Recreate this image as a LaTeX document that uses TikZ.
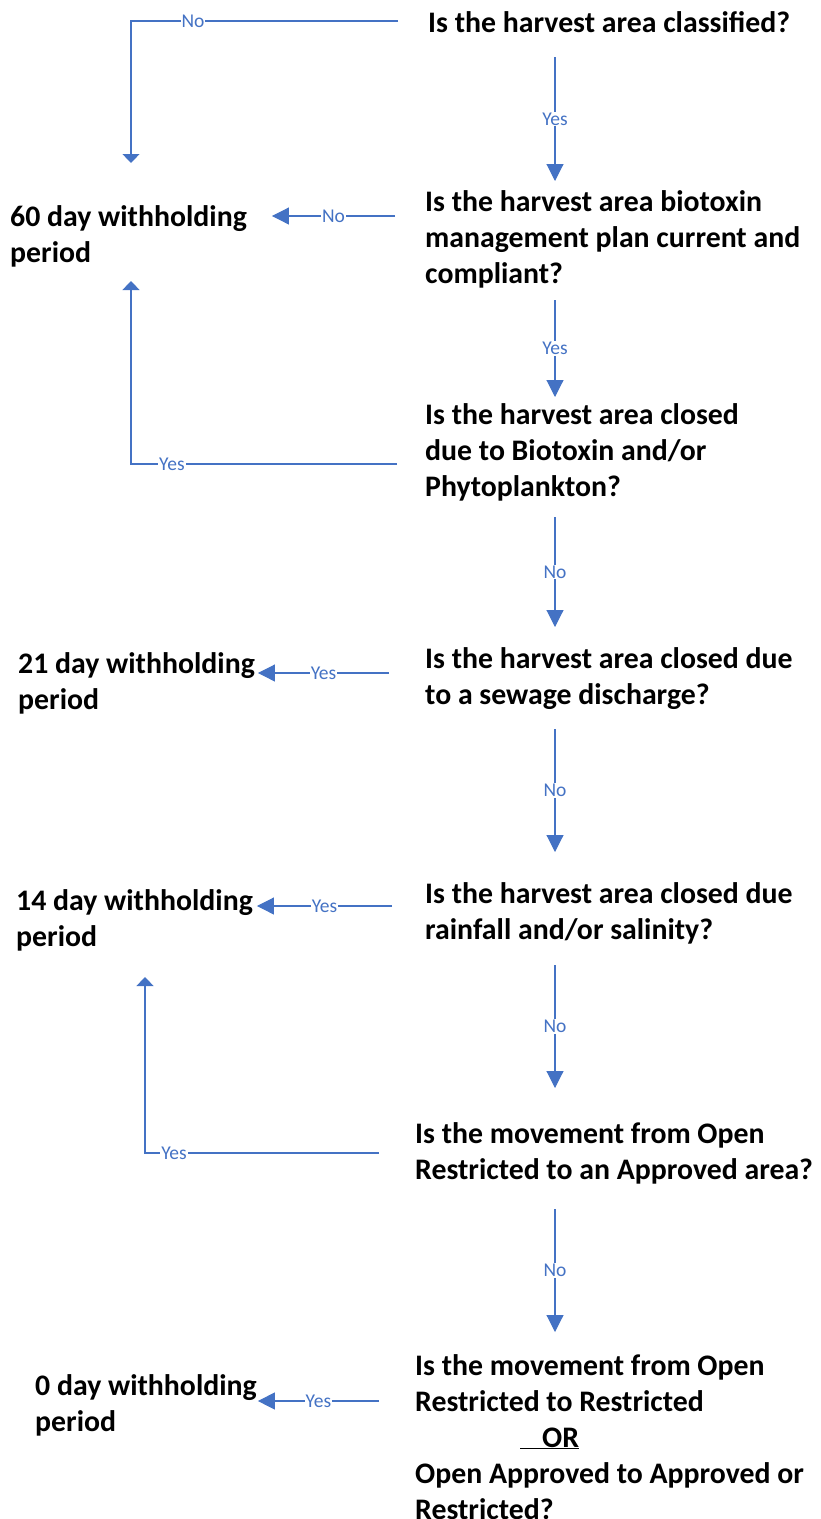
\documentclass[tikz,border=0pt]{standalone}
\usepackage{fontspec}
\setmainfont{Carlito}
\usepackage{tikz}
\usetikzlibrary{arrows.meta,positioning,calc}
\definecolor{flowblue}{RGB}{68, 114, 196}

\begin{document}
\begin{tikzpicture}[
    x=1pt, y=-1pt,
    question/.style={anchor=base west, align=left, inner sep=0pt, font=\fontsize{29.8}{36}\selectfont\bfseries},
    result/.style={question},
    flow/.style={draw=flowblue, line width=1.1pt, -{Triangle[length=17pt,width=17pt]}},
    elbow/.style={flow, -{Triangle[length=9pt,width=17pt]}},
    lbl/.style={font=\fontsize{19.5}{20}\selectfont, text=flowblue, fill=white, inner sep=1pt}
]
    \useasboundingbox (0,0) rectangle (820,1519);

    % Guide lines
    \coordinate (axis) at (555,0);
    \coordinate (laneA) at (131,0);
    \coordinate (laneB) at (145,0);

    % Questions (placed at the baseline of their last line)
    \node[question] (q1) at (428,32) {Is the harvest area classified?};
    \node[question] (q2) at (425,283) {Is the harvest area biotoxin\\management plan current and\\compliant?};
    \node[question] (q3) at (425,496) {Is the harvest area closed\\due to Biotoxin and/or\\Phytoplankton?};
    \node[question] (q4) at (425,704) {Is the harvest area closed due\\to a sewage discharge?};
    \node[question] (q5) at (425,939) {Is the harvest area closed due\\rainfall and/or salinity?};
    \node[question] (q6) at (415,1179) {Is the movement from Open\\Restricted to an Approved area?};
    \node[question] (q7) at (415,1519) {Is the movement from Open\\Restricted to Restricted\\\hspace*{105pt}\underline{\hspace{22pt}OR}\\Open Approved to Approved or\\Restricted?};

    % Withholding periods
    \node[result] (sixty) at (10,262) {60 day withholding\\period};
    \node[result] (twentyone) at (18,709) {21 day withholding\\period};
    \node[result] (fourteen) at (16,946) {14 day withholding\\period};
    \node[result] (zero) at (35,1431) {0 day withholding\\period};

    % Down the chain
    \draw[flow] ($(q1.base -| axis)+(0,25)$) -- node[lbl] {Yes} ($(q2.base -| axis)+(0,-102)$);
    \draw[flow] ($(q2.base -| axis)+(0,17)$) -- node[lbl] {Yes} ($(q3.base -| axis)+(0,-99)$);
    \draw[flow] ($(q3.base -| axis)+(0,21)$) -- node[lbl] {No} ($(q4.base -| axis)+(0,-77)$);
    \draw[flow] ($(q4.base -| axis)+(0,25)$) -- node[lbl] {No} ($(q5.base -| axis)+(0,-87)$);
    \draw[flow] ($(q5.base -| axis)+(0,26)$) -- node[lbl] {No} ($(q6.base -| axis)+(0,-91)$);
    \draw[flow] ($(q6.base -| axis)+(0,30)$) -- node[lbl] {No} ($(q7.base -| axis)+(0,-187)$);

    % Out to the left
    \draw[elbow] ($(q1.base west)+(-30,-11)$) -| node[lbl, pos=0.384] {No} ($(sixty.base -| laneA)+(0,-99)$);
    \draw[flow] ($(q2.base west)+(-30,-67)$) -- node[lbl] {No} ($(sixty.base east)+(25,-46)$);
    \draw[elbow] ($(q3.base west)+(-28,-32)$) -| node[lbl, pos=0.423] {Yes} ($(sixty.base -| laneA)+(0,19)$);
    \draw[flow] ($(q4.base west)+(-36,-31)$) -- node[lbl] {Yes} ($(twentyone.base east)+(3,-36)$);
    \draw[flow] ($(q5.base west)+(-33,-33)$) -- node[lbl] {Yes} ($(fourteen.base east)+(4,-40)$);
    \draw[elbow] ($(q6.base west)+(-36,-26)$) -| node[lbl, pos=0.438] {Yes} ($(fourteen.base -| laneB)+(0,31)$);
    \draw[flow] ($(q7.base west)+(-36,-118)$) -- node[lbl] {Yes} ($(zero.base east)+(1,-30)$);

\end{tikzpicture}
\end{document}
